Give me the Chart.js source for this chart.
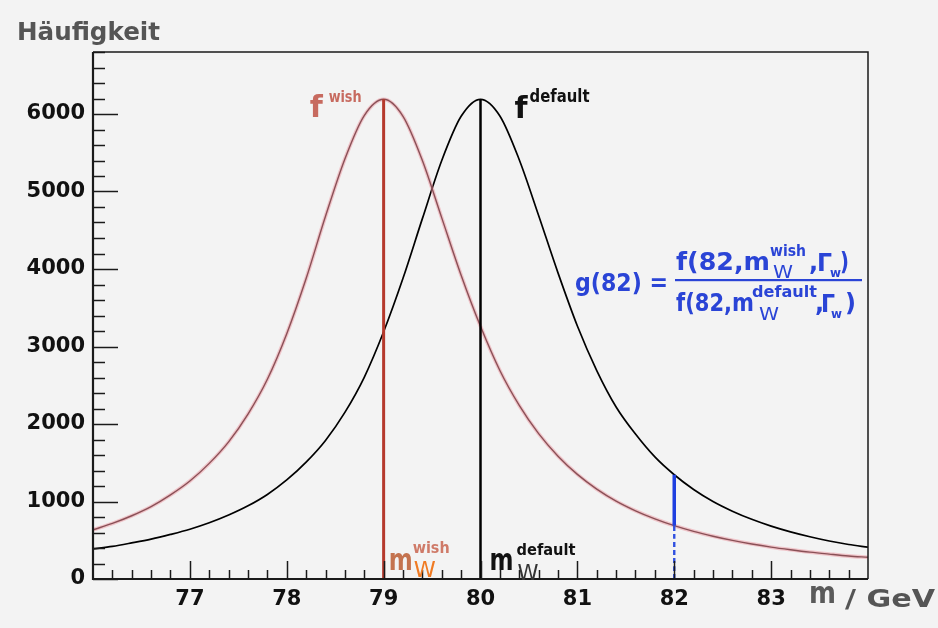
<!DOCTYPE html>
<html><head><meta charset="utf-8">
<script src="https://cdn.jsdelivr.net/npm/chart.js@4"></script>
<style>html,body{margin:0;padding:0;background:#f3f3f3;}canvas{display:block}</style>
</head><body>
<canvas id="c" width="938" height="628"></canvas>
<script>
// Data
const massPoints = [76.0,76.2,76.4,76.6,76.8,77.0,77.2,77.4,77.6,77.8,78.0,78.2,78.4,78.6,78.8,79.0,79.2,79.4,79.6,79.8,80.0,80.2,80.4,80.6,80.8,81.0,81.2,81.4,81.6,81.8,82.0,82.2,82.4,82.6,82.8,83.0,83.2,83.4,83.6,83.8,84.0];
const fWish = [635,717,816,934,1085,1264,1492,1770,2128,2577,3165,3877,4680,5420,5980,6190,5970,5400,4660,3920,3260,2690,2240,1875,1585,1350,1160,1005,880,776,688,614,552,498,452,412,378,347,321,297,280];
const fDefault = [388,421,466,515,575,642,725,825,944,1091,1278,1508,1788,2150,2603,3190,3880,4650,5400,5970,6190,5975,5410,4690,3950,3265,2690,2220,1870,1575,1345,1155,1000,875,770,682,608,545,490,445,410];
const xTickLabels = [77,78,79,80,81,82,83];
const yTickLabels = [0,1000,2000,3000,4000,5000,6000];
const massWish = 79, massDefault = 80, massProbe = 82;

const pts = ys => massPoints.map((m,i)=>({x:m,y:ys[i]}));
const at = (ys,m) => ys[massPoints.indexOf(m)];

const TF = 'DejaVu Sans';
function txt(ctx,s,x,y,size,color,weight,w){
  ctx.save();
  ctx.font=(weight||'bold')+' '+size+'px "'+TF+'"';
  ctx.fillStyle=color; ctx.textAlign='left'; ctx.textBaseline='alphabetic';
  const nat=ctx.measureText(s).width;
  const sx = w ? w/nat : 1;
  ctx.translate(x,y); ctx.scale(sx,1); ctx.fillText(s,0,0);
  ctx.restore();
  return x+nat*sx;
}

const decor = {
  id:'decor',
  beforeDraw(chart){const c=chart.ctx;c.save();c.fillStyle='#f3f3f3';c.fillRect(0,0,chart.width,chart.height);c.restore();},
  afterDatasetsDraw(chart){
    const c=chart.ctx, xs=chart.scales.x, ys=chart.scales.y, a=chart.chartArea;
    c.save();
    c.strokeStyle='#1a1a1a'; c.lineWidth=1.5;
    // inner ticks
    for(let k=0;k<=34;k++){const v=k*200;const y=Math.round(ys.getPixelForValue(v))+0.5;const L=(v%1000===0)?25:12;
      c.beginPath();c.moveTo(a.left,y);c.lineTo(a.left+L,y);c.stroke();}
    for(let k=1;k<40;k++){const v=76+k*0.2;const x=Math.round(xs.getPixelForValue(v))+0.5;const L=(k%5===0)?18:9;
      c.beginPath();c.moveTo(x,a.bottom);c.lineTo(x,a.bottom-L);c.stroke();}
    // frame
    c.lineWidth=1.5; c.beginPath(); c.moveTo(a.left,a.top); c.lineTo(a.right,a.top); c.lineTo(a.right,a.bottom); c.stroke();
    c.lineWidth=2.2; c.beginPath(); c.moveTo(a.left,a.top); c.lineTo(a.left,a.bottom); c.lineTo(a.right,a.bottom); c.stroke();
    c.restore();

    // axis titles
    txt(c,'Häufigkeit',17,40,25,'#555','bold',143);
    txt(c,'m',809,603,30,'#5a5a5a','bold',27);
    txt(c,'/ GeV',845,607,24,'#555','bold',90);

    // f labels
    const xw=xs.getPixelForValue(massWish), xd=xs.getPixelForValue(massDefault);
    const yp=ys.getPixelForValue(at(fWish,massWish));
    txt(c,'f',xw-74,yp+18,30,'#c76a5f');
    txt(c,'wish',xw-55,yp+3,16,'#c76a5f','bold',33);
    txt(c,'f',xd+34,yp+19,30,'#111');
    txt(c,'default',xd+49,yp+3,17,'#111','bold',60);

    // m_W labels
    const yb=a.bottom;
    txt(c,'m',xw+5,yb-9,31,'#c4734f','bold',24);
    txt(c,'wish',xw+29,yb-26,16,'#cf7a68','bold',37);
    txt(c,'W',xw+30,yb-2,21,'#f07a22','normal',22);
    txt(c,'m',xd+9,yb-9,31,'#111','bold',24);
    txt(c,'default',xd+36,yb-24,16,'#111','bold',59);
    txt(c,'W',xd+37,yb+1,21,'#333','normal',21);

    // formula
    const blue='#2a44d6';
    txt(c,'g(82) =',575,291,24,blue,'bold',93);
    txt(c,'f(82,m',676,270,24,blue,'bold',94);
    txt(c,'wish',770,256,15,blue,'bold',36);
    txt(c,'W',773,278,18,blue,'normal',20);
    txt(c,',',809,270,24,blue);
    txt(c,'Γ',817,271,24,blue,'bold',15);
    txt(c,'w',830,277,13,blue,'bold',11);
    txt(c,')',840,270,24,blue,'bold',9);
    c.save(); c.fillStyle=blue; c.fillRect(675,279,187,2.2); c.restore();
    txt(c,'f(82,m',676,311,24,blue,'bold',78);
    txt(c,'default',752,297,15,blue,'bold',65);
    txt(c,'W',759,320,18,blue,'normal',20);
    txt(c,',',815,311,24,blue);
    txt(c,'Γ',821,312,24,blue,'bold',14);
    txt(c,'w',831,318,13,blue,'bold',11);
    txt(c,')',845,311,24,blue,'bold',11);
  }
};

const lineDs = (data,color,width,extra)=>Object.assign({data,borderColor:color,borderWidth:width,pointRadius:0,fill:false,cubicInterpolationMode:'monotone'},extra||{});

new Chart(document.getElementById('c'),{
  type:'line',
  data:{datasets:[
    lineDs([{x:massWish,y:0},{x:massWish,y:at(fWish,massWish)}],'#b5392c',3),
    lineDs([{x:massDefault,y:0},{x:massDefault,y:at(fDefault,massDefault)}],'#000',2.5),
    lineDs([{x:massProbe,y:0},{x:massProbe,y:at(fWish,massProbe)}],'#3050e0',2.4,{borderDash:[5,3]}),
    lineDs([{x:massProbe,y:at(fWish,massProbe)},{x:massProbe,y:at(fDefault,massProbe)}],'#1e3fe0',3.5),
    lineDs(pts(fWish),'rgba(236,140,150,0.45)',3.8),
    lineDs(pts(fWish),'#3b2022',1.4),
    lineDs(pts(fDefault),'#000',1.7)
  ]},
  options:{
    responsive:false, animation:false, devicePixelRatio:1,
    layout:{padding:{top:52,right:70,left:0,bottom:0}},
    plugins:{legend:{display:false},tooltip:{enabled:false}},
    scales:{
      x:{type:'linear',min:76,max:84,afterFit(s){s.height=49;},grid:{display:false,drawTicks:false},border:{display:false},
         afterBuildTicks(s){s.ticks=xTickLabels.map(v=>({value:v}));},
         ticks:{autoSkip:false,maxRotation:0,padding:8,color:'#111',font:{family:TF,weight:'bold',size:21},
                callback:v=>String(v)}},
      y:{type:'linear',min:0,max:6800,afterFit(s){s.width=93;},grid:{display:false,drawTicks:false},border:{display:false},
         afterBuildTicks(s){s.ticks=yTickLabels.map(v=>({value:v}));},
         ticks:{autoSkip:false,padding:8,color:'#111',font:{family:TF,weight:'bold',size:21},
                callback:v=>String(v)}}
    }
  },
  plugins:[decor]
});
</script>
</body></html>
